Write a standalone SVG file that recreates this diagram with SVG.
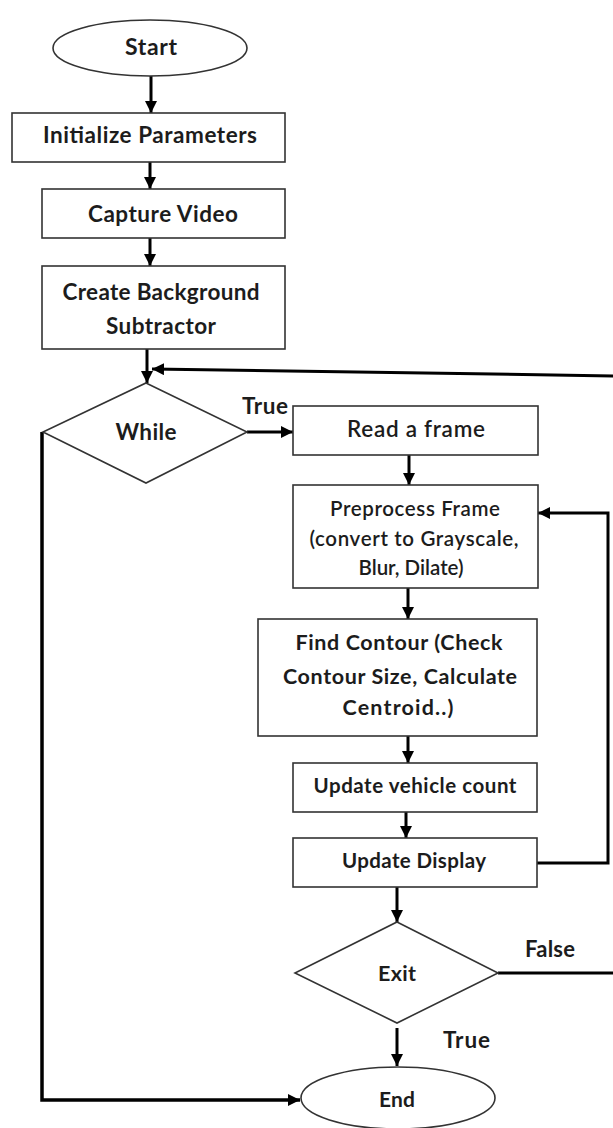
<svg xmlns="http://www.w3.org/2000/svg" width="613" height="1128" viewBox="0 0 613 1128">
<defs>
<marker id="ah" markerUnits="userSpaceOnUse" markerWidth="12" markerHeight="12" viewBox="0 0 12 12" refX="12" refY="6" orient="auto">
<path d="M0,0 L12,6 L0,12 Z" fill="#000"/>
</marker>
<style>
.box{fill:#fff;stroke:#333;stroke-width:1.6}
.t{font-family:Lato,"Liberation Sans",sans-serif;font-weight:700;fill:#1c1c1c;text-anchor:middle}
.s{font-weight:600}
.ca{fill:none;stroke:#000;stroke-width:3;marker-end:url(#ah)}
.lbl{font-family:Lato,"Liberation Sans",sans-serif;font-weight:700;fill:#1c1c1c}
</style>
</defs>
<rect width="613" height="1128" fill="#fff"/>
<g id="connectors">
<line class="ca" x1="151" y1="76" x2="151" y2="113"/>
<line class="ca" x1="150" y1="162" x2="150" y2="189"/>
<line class="ca" x1="150" y1="238" x2="150" y2="266"/>
<line class="ca" x1="147" y1="349" x2="147" y2="383"/>
<polyline class="ca" points="498,973 620,973 620,376 152,369"/>
<line class="ca" x1="247" y1="432" x2="293" y2="432"/>
<line class="ca" x1="409" y1="455" x2="409" y2="485"/>
<line class="ca" x1="408" y1="588" x2="408" y2="619"/>
<line class="ca" x1="408" y1="736" x2="408" y2="763"/>
<line class="ca" x1="406" y1="812" x2="406" y2="838"/>
<polyline class="ca" points="537,863 608,863 608,513 538,513"/>
<line class="ca" x1="397" y1="887" x2="397" y2="922"/>
<line class="ca" x1="397" y1="1028" x2="397" y2="1066"/>
<polyline class="ca" style="stroke-width:3.5" points="42,432 42,1100 300,1100"/>
<text class="lbl" x="242" y="414" font-size="22.5" textLength="46">True</text>
<text class="lbl" x="525" y="957" font-size="22" textLength="50">False</text>
<text class="lbl" x="443" y="1048" font-size="22.5" textLength="47">True</text>
</g>
<g id="start">
<ellipse class="box" cx="150" cy="48" rx="97" ry="28"/>
<text class="t" x="151" y="55" font-size="23" textLength="52">Start</text>
</g>
<g id="init">
<rect class="box" x="12" y="113" width="273" height="49"/>
<text class="t" x="150" y="143" font-size="22.5" textLength="214">Initialize Parameters</text>
</g>
<g id="capture">
<rect class="box" x="42" y="189" width="243" height="49"/>
<text class="t" x="163" y="222" font-size="22.5" textLength="150">Capture Video</text>
</g>
<g id="bgsub">
<rect class="box" x="42" y="266" width="243" height="83"/>
<text class="t" x="161" y="300" font-size="22.5" textLength="197">Create Background</text>
<text class="t" x="161" y="334" font-size="22.5" textLength="110">Subtractor</text>
</g>
<g id="while">
<polygon class="box" points="146,383 247,432 146,483 43,432"/>
<text class="t" x="146" y="440" font-size="22.5" textLength="61">While</text>
</g>
<g id="read">
<rect class="box" x="293" y="406" width="245" height="49"/>
<text class="t s" x="416" y="437" font-size="22.5" textLength="138">Read a frame</text>
</g>
<g id="preprocess">
<rect class="box" x="293" y="485" width="245" height="103"/>
<text class="t s" x="415" y="516" font-size="20.5" textLength="170">Preprocess Frame</text>
<text class="t s" x="414" y="546" font-size="20.5" textLength="209">(convert to Grayscale,</text>
<text class="t s" x="411" y="575" font-size="20.5" textLength="105">Blur, Dilate)</text>
</g>
<g id="contour">
<rect class="box" x="258" y="619" width="279" height="117"/>
<text class="t" x="399" y="650" font-size="21.5" textLength="207">Find Contour (Check</text>
<text class="t" x="400" y="684" font-size="21.5" textLength="234">Contour Size, Calculate</text>
<text class="t" x="398" y="715" font-size="21.5" textLength="111">Centroid..)</text>
</g>
<g id="count">
<rect class="box" x="293" y="763" width="244" height="49"/>
<text class="t" x="415" y="793" font-size="20.5" textLength="203">Update vehicle count</text>
</g>
<g id="display">
<rect class="box" x="293" y="838" width="244" height="49"/>
<text class="t" x="414" y="868" font-size="20.5" textLength="144">Update Display</text>
</g>
<g id="exit">
<polygon class="box" points="397,922 498,973 397,1023 295,973"/>
<text class="t" x="397" y="981" font-size="21.5" textLength="38">Exit</text>
</g>
<g id="end">
<ellipse class="box" cx="398" cy="1098" rx="97" ry="31"/>
<text class="t" x="397" y="1107" font-size="21" textLength="36">End</text>
</g>
</svg>
